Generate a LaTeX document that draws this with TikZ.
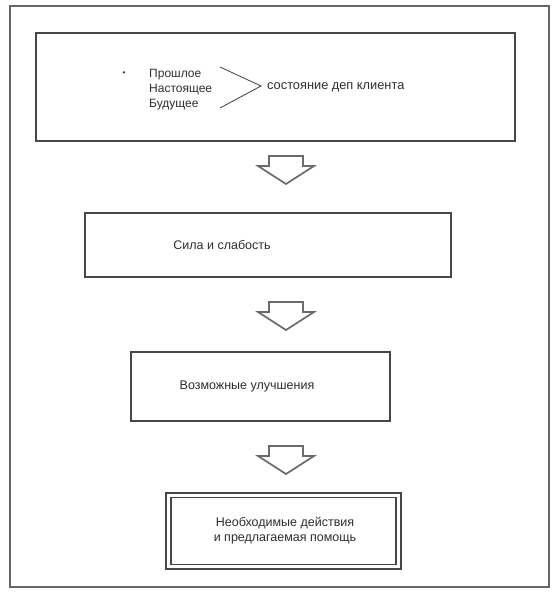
\documentclass[tikz,border=0pt]{standalone}
\usepackage{fontspec}
\setmainfont{Liberation Sans}
\begin{document}
\begin{tikzpicture}[x=1pt,y=-1pt,
  frame/.style={draw=black!60,line width=1.2pt,inner sep=0pt},
  box/.style={draw=black!72,line width=1.1pt,inner sep=0pt},
  lbl/.style={font=\fontsize{12.5}{15}\selectfont,text=black!82,inner sep=0pt},
  chev/.style={draw=black!75,line width=0.8pt},
  blockarrow/.style={draw=black!58,line width=1.7pt,line join=miter,fill=white},
  downarrow/.pic={\path[blockarrow] (-17,0) -- (17,0) -- (17,10) -- (28,10) -- (0,28) -- (-28,10) -- (-17,10) -- cycle;}]
\useasboundingbox (0,0) rectangle (559,592);
\fill[white] (0,0) rectangle (559,592);
% outer frame
\node[frame,minimum width=539pt,minimum height=581pt] (frame) at (279.5,296.5) {};
% boxes
\node[box,minimum width=479pt,minimum height=108pt] (b1) at (275.5,87) {};
\node[box,minimum width=366pt,minimum height=64pt] (b2) at (268,245) {};
\node[box,minimum width=259pt,minimum height=69pt] (b3) at (260.5,386.5) {};
\node[box,minimum width=235pt,minimum height=76pt] (b4) at (283.5,531) {};
\node[box,minimum width=225pt,minimum height=67pt] (b4in) at (b4.center) {};
% box 1 content
\node[lbl] (bul) at (124,74) {\fontsize{8}{8}\selectfont •};
\node[lbl,anchor=west,font=\fontsize{12}{14}\selectfont] (t1) at (149,75) {Прошлое};
\node[lbl,anchor=west,font=\fontsize{12}{14}\selectfont] (t2) at (149,90) {Настоящее};
\node[lbl,anchor=west,font=\fontsize{12}{14}\selectfont] (t3) at (149,105) {Будущее};
\coordinate (ca) at (220,67);
\coordinate (cv) at (261,86);
\coordinate (cb) at (220,108);
\draw[chev] (ca) -- (cv) -- (cb);
\node[lbl,anchor=west,font=\fontsize{12.8}{14}\selectfont] (t4) at (267,87) {состояние деп клиента};
% other labels
\node[lbl] (t5) at (222,245) {Сила и слабость};
\node[lbl] (t6) at (247,386) {Возможные улучшения};
\node[lbl,align=center] (t7) at (285,531) {Необходимые действия\\и предлагаемая помощь};
% block arrows
\pic at (286,156) {downarrow};
\pic at (286,302) {downarrow};
\pic at (286,446) {downarrow};
\end{tikzpicture}
\end{document}
